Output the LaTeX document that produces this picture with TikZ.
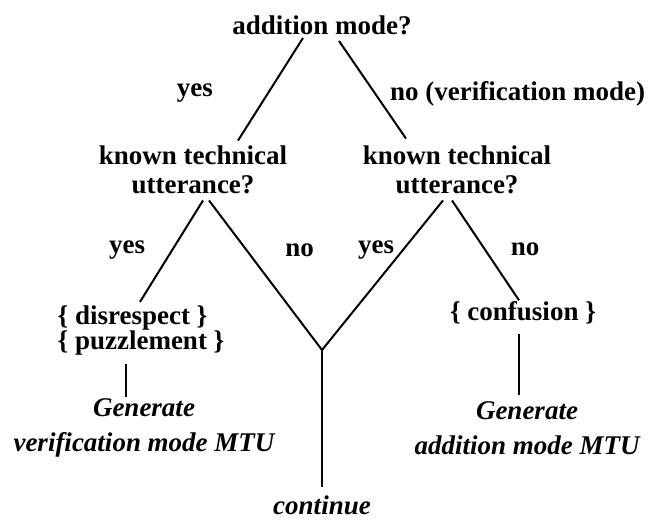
\documentclass[tikz,border=0pt]{standalone}
\usepackage{fontspec}
\setmainfont{Liberation Serif}
\usepackage{tikz}
\usetikzlibrary{positioning, calc}

\begin{document}
\begin{tikzpicture}[
        x=0.5pt, y=-0.5pt,
        question/.style={inner sep=0pt, align=center, font=\fontsize{13.5}{14.5}\selectfont\bfseries},
        emotion/.style={inner sep=0pt, align=left, font=\fontsize{13.5}{12.5}\selectfont\bfseries},
        action/.style={inner sep=0pt, align=center, font=\fontsize{13.5}{17.5}\selectfont\bfseries\itshape},
        branch/.style={line width=1pt},
        answer/.style={inner sep=0pt, font=\fontsize{13.5}{14.5}\selectfont\bfseries}
    ]
        \useasboundingbox (0,0) rectangle (653,521);

        % Top level - mode test
        \node[question] (mode) at (322,25) {addition mode?};

        % Second level - utterance tests
        \node[question] (known1) at (193,170) {known technical\\utterance?};
        \node[question] (known2) at (457,170) {known technical\\utterance?};

        % Third level - emotions
        \node[emotion] (emo1) at (141,330) {\{ disrespect \}\\\{ puzzlement \}};
        \node[question] (emo2) at (523,313) {\{ confusion \}};
        \coordinate (join) at (322,350);

        % Bottom level - actions
        \node[action] (gen1) at (144,428) {Generate\\verification mode MTU};
        \node[action] (gen2) at (527,428) {Generate\\addition mode MTU};
        \node[action] (cont) at (322,505) {continue};

        % Branches
        \draw[branch] ([shift={(-19,3)}]mode.south) -- node[answer, pos=.54, left=27pt] {yes} ([shift={(45,-5)}]known1.north);
        \draw[branch] ([shift={(17,6)}]mode.south) -- node[answer, pos=.54, right=7pt] {no (verification mode)} ([shift={(-51,-7)}]known2.north);
        \draw[branch] ([shift={(10,6)}]known1.south) -- node[answer, pos=.49, left=13pt] {yes} ([shift={(-1,-3)}]emo1.north);
        \draw[branch] ([shift={(16,6)}]known1.south) -- node[answer, pos=.33, right=19pt] {no} (join);
        \draw[branch] ([shift={(-14,6)}]known2.south) -- node[answer, pos=.33, left=4pt] {yes} (join);
        \draw[branch] ([shift={(-5,6)}]known2.south) -- node[answer, pos=.49, right=12.5pt] {no} ([shift={(-4,-1)}]emo2.north);
        \draw[branch] (join) -- ([shift={(0,-8)}]cont.north);
        \draw[branch] ([shift={(-15,9)}]emo1.south) -- ([shift={(-18,-1)}]gen1.north);
        \draw[branch] ([shift={(-4,9)}]emo2.south) -- ([shift={(-8,-6)}]gen2.north);
    \end{tikzpicture}
\end{document}
